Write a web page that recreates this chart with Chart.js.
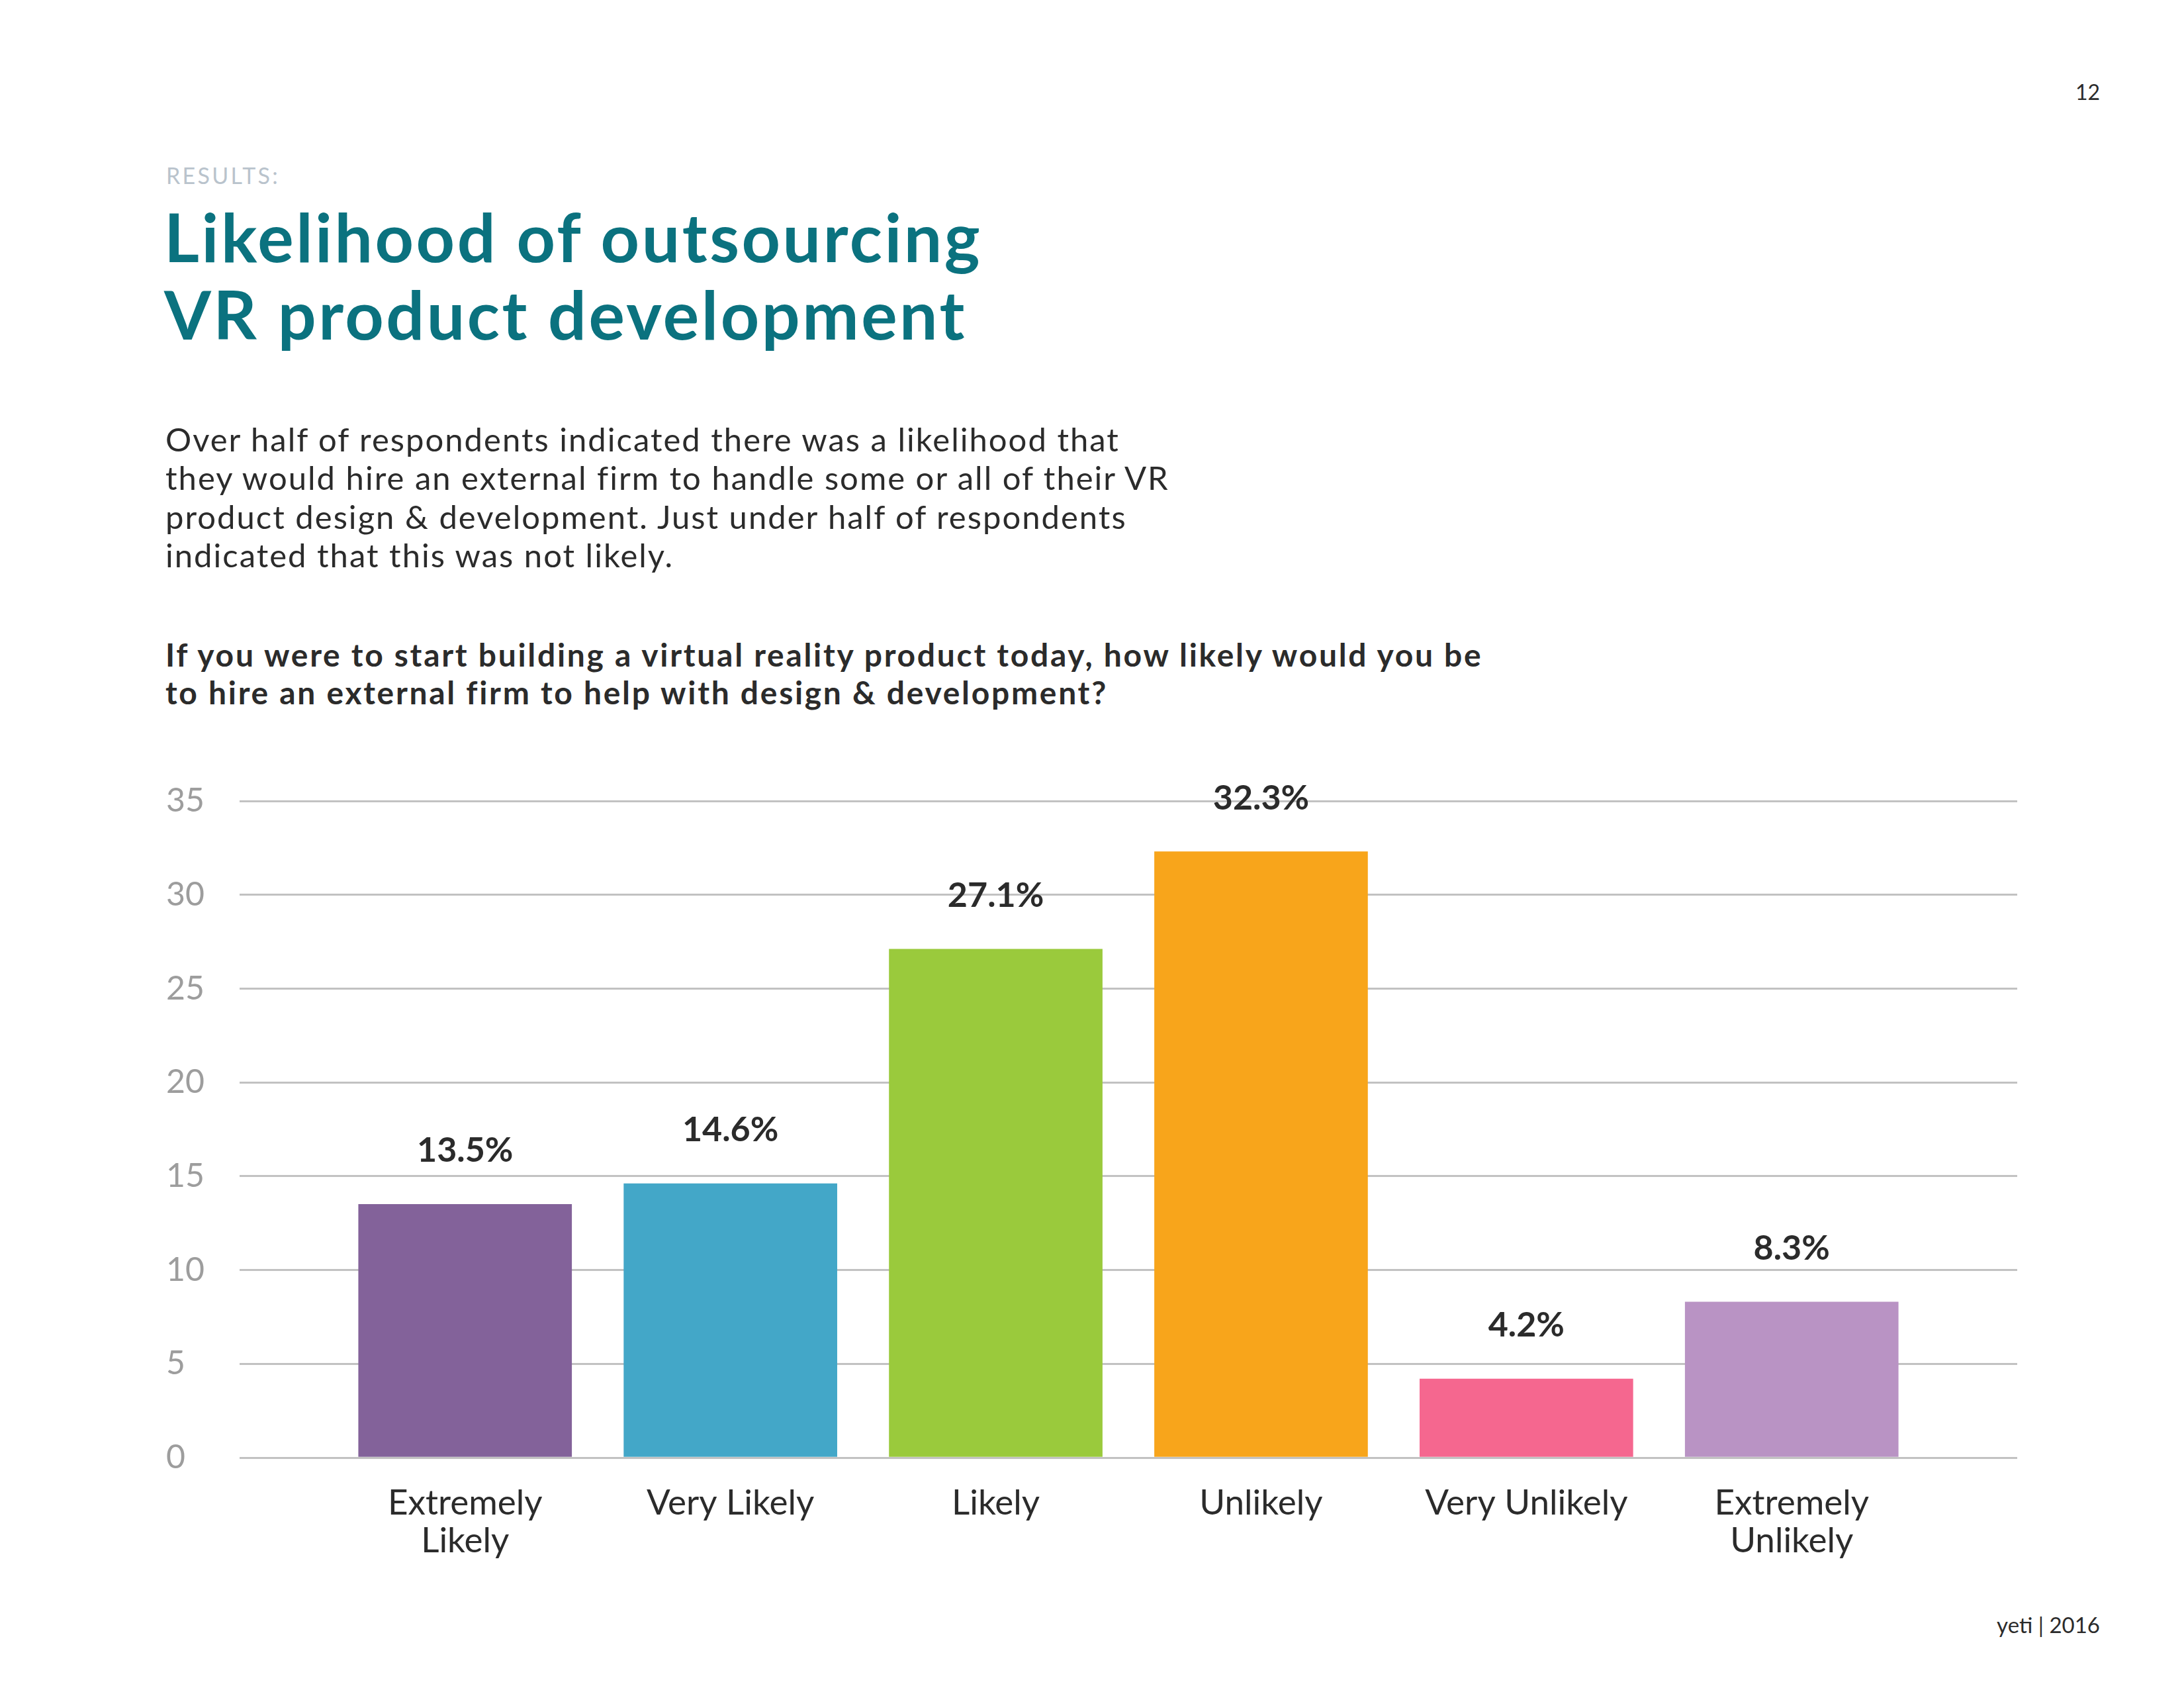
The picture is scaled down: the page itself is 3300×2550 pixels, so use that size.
<!DOCTYPE html>
<html>
<head>
<meta charset="utf-8">
<script src="https://cdn.jsdelivr.net/npm/chart.js@4.4.1/dist/chart.umd.min.js"></script>
<style>
  html, body { margin: 0; padding: 0; background: #ffffff; }
  body { width: 3300px; height: 2550px; position: relative; overflow: hidden; font-family: Lato, "Noto Sans", sans-serif; }
  .t { position: absolute; white-space: nowrap; margin: 0; }
  #pg { right: 127px; top: 120px; font-size: 32px; line-height: 1.2; color: #2b2b2b; }
  #results { left: 251px; top: 245px; font-size: 34px; line-height: 1.2; color: #b9c3cc; letter-spacing: 3.3px; }
  #title { left: 248px; top: 298px; font-size: 102px; line-height: 117px; font-weight: 700; color: #0b727f; letter-spacing: 3.5px; }
  #para { left: 250px; top: 634px; font-size: 49px; line-height: 58.3px; color: #2b2b2b; letter-spacing: 2px; }
  #question { left: 250px; top: 960px; font-size: 48px; line-height: 57px; font-weight: 700; color: #2b2b2b; letter-spacing: 2.7px; }
  #footer { right: 127px; top: 2435px; font-size: 33px; line-height: 1.2; color: #2b2b2b; }
  #chart { position: absolute; left: 0; top: 0; }
</style>
</head>
<body>
<div class="t" id="pg">12</div>
<div class="t" id="results">RESULTS:</div>
<div class="t" id="title">Likelihood of outsourcing<br>VR product development</div>
<div class="t" id="para">Over half of respondents indicated there was a likelihood that<br>they would hire an external firm to handle some or all of their VR<br>product design &amp; development. Just under half of respondents<br>indicated that this was not likely.</div>
<div class="t" id="question">If you were to start building a virtual reality product today, how likely would you be<br>to hire an external firm to help with design &amp; development?</div>
<div class="t" id="footer">yeti | 2016</div>
<canvas id="chart" width="3300" height="2550"></canvas>
<script>
// ---- data ----
const categories = [["Extremely", "Likely"], ["Very Likely"], ["Likely"], ["Unlikely"], ["Very Unlikely"], ["Extremely", "Unlikely"]];
const values = [13.5, 14.6, 27.1, 32.3, 4.2, 8.3];
const valueLabels = ["13.5%", "14.6%", "27.1%", "32.3%", "4.2%", "8.3%"];
const barColors = ["#83629a", "#43a7c8", "#9aca3c", "#f8a51b", "#f5678f", "#b993c4"];
const yTicks = [0, 5, 10, 15, 20, 25, 30, 35];

const labelPlugin = {
  id: 'valueLabels',
  afterDatasetsDraw(chart) {
    const ctx = chart.ctx;
    const meta = chart.getDatasetMeta(0);
    ctx.save();
    ctx.font = 'bold 52px Lato, "Noto Sans", sans-serif';
    ctx.fillStyle = '#2b2b2b';
    ctx.textAlign = 'center';
    ctx.textBaseline = 'alphabetic';
    meta.data.forEach((bar, i) => {
      ctx.fillText(valueLabels[i], bar.x, bar.y - 64);
    });
    ctx.restore();
  }
};

new Chart(document.getElementById('chart'), {
  type: 'bar',
  data: {
    datasets: [{
      data: values.map((v, i) => ({ x: i, y: v })),
      backgroundColor: barColors,
      borderWidth: 0,
      barThickness: 322
    }]
  },
  options: {
    responsive: false,
    animation: false,
    devicePixelRatio: 1,
    layout: { padding: { left: 251, top: 1210, right: 252, bottom: 0 } },
    plugins: { legend: { display: false }, tooltip: { enabled: false } },
    scales: {
      x: {
        type: 'linear',
        offset: false,
        min: -0.85,
        max: 5.85,
        afterBuildTicks: (scale) => { scale.ticks = categories.map((c, i) => ({ value: i })); },
        afterFit: (scale) => { scale.height = 348; },
        grid: { display: false, drawTicks: false, offset: false },
        border: { display: false },
        ticks: {
          autoSkip: false,
          maxRotation: 0,
          minRotation: 0,
          padding: 40,
          color: '#2b2b2b',
          font: { family: 'Lato, "Noto Sans", sans-serif', size: 53, lineHeight: 1.08 },
          callback: (v) => categories[v]
        }
      },
      y: {
        min: 0,
        max: 35,
        afterBuildTicks: (scale) => { scale.ticks = yTicks.map(v => ({ value: v })); },
        afterFit: (scale) => { scale.width = 111; },
        grid: { color: '#c2c2c2', lineWidth: 3, drawTicks: false },
        border: { display: false },
        ticks: {
          crossAlign: 'far',
          padding: 0,
          color: '#9d9d9d',
          font: { family: 'Lato, "Noto Sans", sans-serif', size: 50 },
          callback: (v) => String(v)
        }
      }
    }
  },
  plugins: [labelPlugin]
});
</script>
</body>
</html>
